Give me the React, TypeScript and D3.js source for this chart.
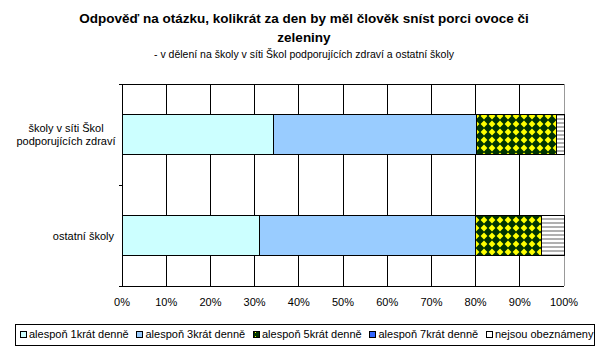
import React from "react";
import * as d3 from "d3";

const categories = ["školy v síti Škol podporujících zdraví", "ostatní školy"];
const categoryLines = [["školy v síti Škol", "podporujících zdraví"], ["ostatní školy"]];
const seriesNames = ["alespoň 1krát denně", "alespoň 3krát denně", "alespoň 5krát denně", "alespoň 7krát denně", "nejsou obeznámeny"];
const s1 = [34.2, 31.1];
const s2 = [45.9, 48.9];
const s3 = [18.2, 15.0];
const s4 = [0, 0];
const s5 = [1.7, 5.0];
const xTicks = [0, 10, 20, 30, 40, 50, 60, 70, 80, 90, 100];
const titleLines = ["Odpověď na otázku, kolikrát za den by měl člověk sníst porci ovoce či", "zeleniny"];
const subtitle = "- v dělení na školy v síti Škol podporujících zdraví a ostatní školy";

const FONT = "'Liberation Sans', Arial, sans-serif";
const fills = ["#CCFFFF", "#99CCFF", "url(#pat5)", "#3366FF", "url(#patN)"];
const legendFills = ["#CCFFFF", "#99CCFF", "url(#pat5L)", "#3366FF", "#FFFFFF"];

function measure(text: string, font: string): number {
  const c = document.createElement("canvas").getContext("2d");
  if (!c) return text.length * 6;
  c.font = font;
  return c.measureText(text).width;
}

export default function App() {
  const W = 603, H = 356;
  const x = d3.scaleLinear().domain([0, 100]).range([122, 564]);
  const y = d3.scaleBand<string>().domain(categories).range([84, 286]).paddingInner(0.6).paddingOuter(0.3);
  const step = y.step();
  const series = [s1, s2, s3, s4, s5];
  const stackData = categories.map((c, i) => {
    const o: any = { cat: c };
    series.forEach((s, k) => (o["k" + k] = s[i]));
    return o;
  });
  const stack = d3.stack<any>().keys(series.map((_, k) => "k" + k))(stackData);

  const lf = `11px ${FONT}`;
  const widths = seriesNames.map((n) => measure(n, lf));
  const startX = 20, lastX = 486;
  const totalText = widths.slice(0, 4).reduce((a, b) => a + b, 0) + 4 * 9;
  const gap = (lastX - startX - totalText) / 4;
  const lx: number[] = [];
  let cx = startX;
  widths.forEach((w) => { lx.push(cx); cx += 9 + w + gap; });

  const bandStarts = categories.map((c) => (y(c) as number) - step * 0.3);

  return (
    <svg width={W} height={H} style={{ position: "absolute", left: 0, top: 0, background: "#fff" }} fontFamily={FONT}>
      <defs>
        <pattern id="pat5" width="8" height="8" patternUnits="userSpaceOnUse">
          <rect width="8" height="8" fill="#003300" />
          <polygon points="4,0.6 7.4,4 4,7.4 0.6,4" fill="#FFFF00" />
        </pattern>
        <pattern id="pat5L" width="4" height="4" patternUnits="userSpaceOnUse">
          <rect width="4" height="4" fill="#003300" />
          <rect x="3" y="0" width="1" height="1" fill="#FFFF00" />
        </pattern>
        <pattern id="patN" width="4" height="4" patternUnits="userSpaceOnUse">
          <rect width="4" height="4" fill="#FFFFFF" />
          <rect y="2" width="4" height="2" fill="#B0B0B0" />
        </pattern>
      </defs>
      <rect width={W} height={H} fill="#fff" />
      <text x={304} y={23} textAnchor="middle" fontSize={13.5} fontWeight="bold" fill="#000">{titleLines[0]}</text>
      <text x={304} y={42} textAnchor="middle" fontSize={13.5} fontWeight="bold" fill="#000">{titleLines[1]}</text>
      <text x={304} y={58} textAnchor="middle" fontSize={10.5} fill="#000">{subtitle}</text>

      {xTicks.slice(1, -1).map((t) => (
        <line key={t} x1={x(t)} x2={x(t)} y1={84} y2={286} stroke="#000" strokeWidth={1} shapeRendering="crispEdges" />
      ))}
      <line x1={564} x2={564} y1={84} y2={286} stroke="#999" shapeRendering="crispEdges" />
      <line x1={119} x2={564} y1={84} y2={84} stroke="#000" shapeRendering="crispEdges" />

      {stack.map((layer, k) => (
        <g key={k}>
          {layer.map((d, i) => {
            const w = x(d[1]) - x(d[0]);
            if (w <= 0) return null;
            return (
              <rect key={i} x={x(d[0])} y={y(categories[i])} width={w} height={y.bandwidth()}
                fill={fills[k]} stroke="#000" strokeWidth={1} shapeRendering="crispEdges" />
            );
          })}
        </g>
      ))}

      <line x1={122} x2={122} y1={84} y2={286} stroke="#000" shapeRendering="crispEdges" />
      <line x1={122} x2={564} y1={286} y2={286} stroke="#000" shapeRendering="crispEdges" />
      {[...bandStarts, 286].map((b, i) => (
        <line key={i} x1={119} x2={122} y1={b} y2={b} stroke="#000" shapeRendering="crispEdges" />
      ))}
      {xTicks.map((t) => (
        <text key={t} x={x(t)} y={306} textAnchor="middle" fontSize={11} fill="#000">{t}%</text>
      ))}
      {categoryLines.map((lines, i) => {
        const cy = (y(categories[i]) as number) + y.bandwidth() / 2;
        if (lines.length === 1) {
          return <text key={i} x={114} y={cy + 4} textAnchor="end" fontSize={11}>{lines[0]}</text>;
        }
        return (
          <g key={i}>
            {lines.map((l, j) => (
              <text key={j} x={66} y={cy + 4 + (j - (lines.length - 1) / 2) * 13} textAnchor="middle" fontSize={11}>{l}</text>
            ))}
          </g>
        );
      })}

      <rect x={15} y={324} width={579} height={21} fill="#fff" stroke="#000" shapeRendering="crispEdges" />
      {seriesNames.map((n, k) => (
        <g key={k}>
          <rect x={lx[k]} y={331} width={6} height={6} fill={legendFills[k]} stroke="#000" shapeRendering="crispEdges" />
          <text x={lx[k] + 9} y={338} fontSize={11}>{n}</text>
        </g>
      ))}
    </svg>
  );
}
